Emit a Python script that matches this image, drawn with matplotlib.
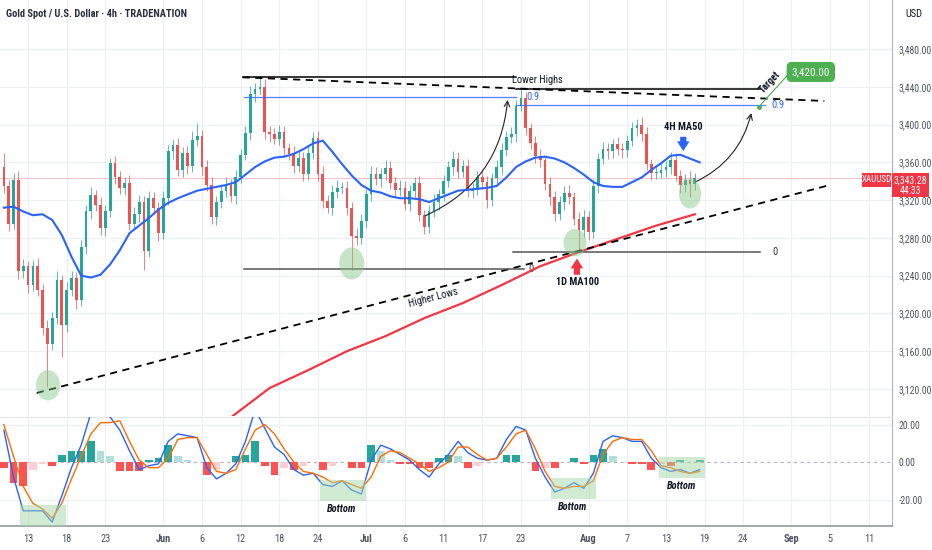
import numpy as np
import matplotlib
matplotlib.use("Agg")
import matplotlib.pyplot as plt
from matplotlib.patches import Ellipse, Rectangle

plt.rcParams['font.family'] = ['Roboto Condensed', 'DejaVu Sans']

# 12h candles (x = trading day, first bar at day -1.5)
first_open = 3355
closes = [3335, 3295, 3341, 3245, 3250, 3230, 3250, 3225, 3185, 3168, 3195, 3235,
          3188, 3225, 3238, 3214, 3270, 3308, 3325, 3315, 3290, 3308, 3359, 3344,
          3333, 3338, 3295, 3305, 3318, 3266, 3322, 3312, 3285, 3322, 3372, 3378,
          3352, 3370, 3356, 3384, 3388, 3355, 3336, 3302, 3318, 3330, 3336, 3324,
          3345, 3368, 3391, 3432, 3438, 3440, 3392, 3390, 3385, 3392, 3375, 3369,
          3356, 3365, 3348, 3370, 3386, 3348, 3319, 3312, 3329, 3333, 3333, 3312,
          3282, 3280, 3298, 3326, 3348, 3342, 3348, 3354, 3338, 3331, 3333, 3316,
          3330, 3338, 3304, 3292, 3308, 3318, 3326, 3340, 3355, 3364, 3350, 3356,
          3330, 3331, 3345, 3339, 3320, 3343, 3355, 3373, 3387, 3390, 3420, 3428,
          3396, 3380, 3367, 3362, 3337, 3323, 3305, 3318, 3328, 3323, 3300, 3288,
          3302, 3286, 3335, 3364, 3374, 3372, 3379, 3374, 3373, 3383, 3396, 3400,
          3390, 3358, 3349, 3349, 3352, 3355, 3363, 3346, 3336, 3341, 3337, 3343.28]
up_wick = [15, 6, 8, 10, 8, 6, 7, 9, 6, 8, 6, 10,
           6, 8, 7, 6, 8, 7, 9, 6, 8, 7, 6, 8,
           7, 6, 9, 8, 7, 6, 8, 7, 6, 8, 6, 7,
           8, 6, 7, 9, 14, 6, 7, 8, 6, 7, 8, 6,
           7, 6, 8, 9, 6, 11, 8, 7, 6, 8, 7, 6,
           8, 7, 6, 8, 6, 7, 8, 6, 7, 8, 6, 7,
           6, 8, 7, 6, 8, 7, 6, 9, 7, 6, 8, 7,
           6, 7, 8, 6, 7, 8, 6, 7, 6, 8, 7, 6,
           8, 7, 6, 8, 7, 6, 7, 8, 6, 7, 6, 9,
           7, 6, 8, 7, 6, 8, 7, 6, 7, 8, 6, 7,
           8, 6, 7, 6, 8, 7, 6, 8, 7, 6, 7, 6,
           8, 7, 6, 8, 7, 6, 8, 7, 6, 7, 10, 5]
down_wick = [7, 8, 6, 9, 7, 8, 6, 7, 8, 46, 7, 6,
             34, 8, 7, 9, 6, 7, 8, 6, 7, 8, 6, 7,
             6, 8, 7, 6, 8, 20, 6, 7, 8, 6, 7, 8,
             6, 7, 8, 6, 7, 8, 6, 7, 8, 6, 7, 6,
             8, 7, 6, 7, 8, 6, 7, 8, 6, 7, 8, 6,
             7, 6, 8, 7, 6, 8, 7, 6, 8, 7, 6, 8,
             36, 7, 6, 8, 7, 6, 8, 7, 6, 8, 7, 6,
             8, 7, 6, 8, 7, 6, 8, 7, 6, 8, 7, 6,
             7, 8, 6, 7, 8, 6, 7, 8, 6, 7, 8, 6,
             7, 6, 8, 7, 6, 8, 7, 6, 8, 7, 6, 22,
             7, 8, 6, 7, 6, 8, 7, 6, 8, 7, 6, 8,
             7, 6, 8, 7, 6, 8, 7, 6, 8, 7, 14, 6]

# daily samples (first at day -1.5)
ma50 = [3312, 3313, 3308, 3304, 3305, 3299, 3283, 3260, 3240, 3238,
        3241, 3252, 3267, 3285, 3293, 3301, 3310, 3317, 3322, 3326,
        3330, 3332, 3334, 3336, 3339, 3347, 3355, 3361, 3365, 3366,
        3369, 3374, 3380, 3383, 3371, 3358, 3346, 3336, 3330, 3328,
        3324, 3322, 3322, 3321, 3318, 3322, 3326, 3330, 3331, 3332,
        3333, 3335, 3344, 3355, 3361, 3365, 3366, 3364, 3360, 3354,
        3347, 3339, 3335, 3334, 3334, 3339, 3344, 3352, 3359, 3367,
        3368, 3364, 3360]
macd_line = [17, -8, -26, -26, -26, -32, -18, -3, 9, 26,
             27, 24, 17, 6, -4, -2, -1, 11, 15, 14,
             13, -3, -9, -6, -1, 11, 28, 18, 8, 4,
             -4, -7, -6, -12, -13, -10, -15, -17, 1, 9,
             7, 4, 1, -4, -8, -1, 4, 11, 5, 2,
             1, 2, 12, 19, 17, 2, -8, -16, -14, -11,
             -14, -6, 11, 14, 13, 11, 11, 2, -3, -5,
             -4, -6, -4]
signal_line = [20, 3, -13, -22, -25, -30, -22, -9, 3, 15,
               21, 21, 22, 11, 1, -3, -3, 2, 12, 13,
               13, 4, -5, -6, -4, 7, 17, 20, 15, 7,
               0, -5, -6, -8, -11, -10, -12, -14, -8, 3,
               6, 5, 2, -1, -5, -3, 0, 8, 8, 4,
               1, 2, 8, 15, 17, 7, -5, -13, -14, -13,
               -13, -10, 4, 11, 13, 12, 12, 6, -2, -3,
               -5, -6, -5]

ma100_days = [22, 26, 30, 34, 38, 42, 46, 50, 54, 58, 62, 66, 70]
ma100 = [3090, 3121, 3140, 3160, 3176, 3195, 3211, 3230, 3250, 3265, 3279, 3293, 3305]

tick_days = [1, 5, 9, 15, 19, 23, 27, 31, 36, 40, 44, 48, 52, 59, 63, 67, 71, 75, 80, 84, 88]
tick_labels = ["13", "18", "23", "Jun", "6", "12", "18", "24", "Jul", "6", "11",
               "17", "23", "Aug", "7", "13", "19", "24", "Sep", "5", "11"]
price_ticks = [3120, 3160, 3200, 3240, 3280, 3320, 3360, 3400, 3440, 3480]
macd_ticks = [20, 0, -20]

# drawn levels
lower_high = 3450
lower_high_2 = 3437.7
fib09_a, fib09_b = 3429, 3420.7
fib0_a, fib0_b = 3247, 3265
target = 3420.00

UP, DOWN = '#26a69a', '#ef5350'
GRID = '#eef0f4'
TXT = '#50535e'
INK = '#131722'

closes = np.array(closes, float)
opens = np.concatenate([[first_open], closes[:-1]])
highs = np.maximum(opens, closes) + np.array(up_wick)
lows = np.minimum(opens, closes) - np.array(down_wick)
bar_days = -1.5 + 0.5 * np.arange(len(closes))
day_x = -1.5 + np.arange(len(ma50))

fig = plt.figure(figsize=(9.32, 5.5), dpi=100)
W, H = 932, 550
ax = fig.add_axes([0, 1 - 416 / H, 892 / W, 416 / H])
mx = fig.add_axes([0, 24 / H, 892 / W, 109 / H], sharex=ax)

# grid
for a in (ax, mx):
    for d in tick_days:
        a.axvline(d, color=GRID, lw=0.9, zorder=0)
for p in price_ticks:
    ax.axhline(p, color=GRID, lw=0.9, zorder=0)
for m in macd_ticks:
    if m != 0:
        mx.axhline(m, color=GRID, lw=0.9, zorder=0)

# candles
col = np.where(closes >= opens, UP, DOWN)
ax.vlines(bar_days, lows, highs, colors=col, lw=0.7, zorder=2, alpha=0.75)
ax.bar(bar_days, np.maximum(np.abs(closes - opens), 0.8), bottom=np.minimum(opens, closes),
       width=0.28, color=col, zorder=3)

ax.axhline(closes[-1], color='#f23645', lw=0.6, alpha=0.35, zorder=1)

# moving averages
ax.plot(day_x, ma50, color='#2962ff', lw=1.5, zorder=4)
ax.plot(ma100_days, ma100, color='#f23645', lw=1.6, zorder=4)

# trend lines
ax.plot([23.2, 51.5], [lower_high, lower_high], color='black', lw=1.1, zorder=5)
ax.plot([51.5, 76.7], [lower_high_2, lower_high_2], color='black', lw=1.1, zorder=5)
ax.plot([23.2, 83.4], [3450, 3425], color='black', lw=1.3, ls=(0, (4, 3)), zorder=5)
ax.plot([1.9, 83.6], [3115.8, 3335], color='black', lw=1.3, ls=(0, (4, 3)), zorder=5)

# fib levels
ax.plot([23.3, 51.5], [fib09_a, fib09_a], color='#2962ff', lw=0.9, alpha=0.8, zorder=5)
ax.plot([51.5, 77.3], [fib09_b, fib09_b], color='#2962ff', lw=0.9, alpha=0.8, zorder=5)
ax.text(52.6, fib09_a, "0.9", color='#2962ff', fontsize=7.5, va='center')
ax.text(77.9, fib09_b, "0.9", color='#2962ff', fontsize=7.5, va='center')
ax.plot([23.3, 52.3], [fib0_a, fib0_a], color='#555555', lw=1.1, zorder=5)
ax.plot([51.2, 76.7], [fib0_b, fib0_b], color='#555555', lw=1.1, zorder=5)
ax.text(52.8, fib0_a, "0", color='#333333', fontsize=7.5, va='center')
ax.text(78.0, fib0_b, "0", color='#333333', fontsize=7.5, va='center')

# target
ax.plot([76.6, 79.9], [3418.6, 3455.7], color='#4caf50', lw=0.8, zorder=5)
ax.plot([76.6], [3418.6], 'o', color='#4caf50', ms=2.5, zorder=6)
ax.text(82.0, 3455.7, f"{target:,.2f}", color='white', fontsize=8, ha='center', va='center',
        bbox=dict(boxstyle='round,pad=0.45', fc='#4caf50', ec='none'), zorder=7)
ax.text(77.8, 3445, "Target", fontsize=7, rotation=47, ha='center', va='center', color=INK,
        weight='bold')

# texts
ax.text(53.7, 3447, "Lower Highs", fontsize=7.5, ha='center', va='center', color=INK)
ax.text(42.9, 3217, "Higher Lows", fontsize=7.5, ha='center', va='center', rotation=14.7, color=INK)
ax.text(68.8, 3397, "4H MA50", fontsize=7.5, ha='center', va='center', color=INK, weight='bold')
ax.text(57.9, 3233, "1D MA100", fontsize=7.5, ha='center', va='center', color=INK, weight='bold')
ax.annotate("", xy=(68.8, 3369), xytext=(68.8, 3390),
            arrowprops=dict(arrowstyle='simple,head_width=0.9,head_length=0.7,tail_width=0.45',
                            color='#2962ff', lw=0))
ax.annotate("", xy=(57.8, 3261), xytext=(57.8, 3238),
            arrowprops=dict(arrowstyle='simple,head_width=0.9,head_length=0.7,tail_width=0.45',
                            color='#f23645', lw=0))

# projection arrows
ax.annotate("", xy=(50.65, 3429), xytext=(41.8, 3302),
            arrowprops=dict(arrowstyle='->', color='#222222', lw=0.8,
                            connectionstyle='arc3,rad=0.3'))
ax.annotate("", xy=(75.9, 3415), xytext=(69.8, 3338),
            arrowprops=dict(arrowstyle='->', color='#222222', lw=0.8,
                            connectionstyle='arc3,rad=0.25'))

# green circles
for cx, cy, w, h in [(3.07, 3124, 2.5, 32), (34.5, 3253, 2.6, 34),
                     (57.6, 3275, 2.4, 29), (69.5, 3327, 2.3, 32)]:
    ax.add_patch(Ellipse((cx, cy), w, h, fc='#81c784', ec='none', alpha=0.45, zorder=6))

# price axis
ax.set_xlim(-1.9, 90.4)
ax.set_ylim(3091.4, 3531.9)
ax.yaxis.tick_right()
ax.set_yticks(price_ticks, [f"{p:,.2f}" for p in price_ticks])
ax.tick_params(axis='y', length=0, pad=5, labelsize=7, labelcolor=TXT)
ax.tick_params(axis='x', length=0, labelbottom=False)
for s in ('top', 'left', 'bottom'):
    ax.spines[s].set_visible(False)
ax.spines['right'].set_color('#b2b5be')

# MACD
hist = np.array(macd_line, float) - np.array(signal_line, float)
prev = np.concatenate([[hist[0]], hist[:-1]])
hcol = np.where(hist >= 0, np.where(hist >= prev, '#26a69a', '#b2dfdb'),
                np.where(hist <= prev, '#ff5252', '#ffcdd2'))
mx.bar(day_x, hist, width=0.8, color=hcol, zorder=2)
mx.axhline(0, color='#b2b5be', lw=0.8, ls=(0, (3, 3)), zorder=1)
mx.plot(day_x, macd_line, color='#2962ff', lw=1.0, zorder=3)
mx.plot(day_x, signal_line, color='#ff6d00', lw=1.0, zorder=3)
for x0, x1, y0, y1 in [(0.17, 4.93, -34.7, -22.9), (31.2, 36.0, -20.8, -9.6),
                       (55.1, 59.75, -19.7, -8.5), (66.3, 71.0, -8.5, 2.7)]:
    mx.add_patch(Rectangle((x0, y0), x1 - x0, y1 - y0, fc='#a5d6a7', ec='none', alpha=0.5, zorder=4))
for bx, by in [(33.5, -25.1), (57.4, -24), (68.65, -12.8)]:
    mx.text(bx, by, "Bottom", fontsize=7.5, style='italic', weight='bold', ha='center', va='center',
            color=INK)
mx.set_ylim(-34.1, 24)
mx.yaxis.tick_right()
mx.set_yticks(macd_ticks, ["20.00", "0.00", "-20.00"])
mx.tick_params(axis='y', length=0, pad=5, labelsize=7, labelcolor=TXT)
mx.set_xticks(tick_days, tick_labels)
mx.tick_params(axis='x', length=0, pad=6, labelsize=7.5, labelcolor=TXT)
for lab in mx.get_xticklabels():
    if lab.get_text() in ("Jun", "Jul", "Aug", "Sep"):
        lab.set_fontweight('bold')
mx.spines['top'].set_color('#e0e3eb')
mx.spines['left'].set_visible(False)
mx.spines['right'].set_color('#b2b5be')
mx.spines['bottom'].set_color('#9598a1')
mx.spines['bottom'].set_linewidth(1.2)

# header and price labels
fig.text(6 / W, 1 - 14 / H, "Gold Spot / U.S. Dollar \u00b7 4h \u00b7 TRADENATION", fontsize=7.5,
         weight='bold', color='#2a2e39', va='center')
fig.text(905 / W, 1 - 14 / H, "USD", fontsize=7.5, color=INK, va='center')
fig.patches.append(Rectangle((862 / W, 1 - 187 / H), 29 / W, 14 / H, transform=fig.transFigure,
                             fc='#f23645', ec='none', zorder=10))
fig.text(876.5 / W, 1 - 180 / H, "XAUUSD", fontsize=6.5, color='white', ha='center', va='center', zorder=11)
fig.patches.append(Rectangle((892 / W, 1 - 197 / H), 37 / W, 24 / H, transform=fig.transFigure,
                             fc='#f23645', ec='none', zorder=10))
fig.text(910.5 / W, 1 - 180 / H, f"{closes[-1]:,.2f}", fontsize=7, color='white', ha='center',
         va='center', zorder=11)
fig.text(910.5 / W, 1 - 191 / H, "44:33", fontsize=7, color='white', ha='center', va='center', zorder=11)

fig.savefig("out.png", dpi=100, facecolor='white')
